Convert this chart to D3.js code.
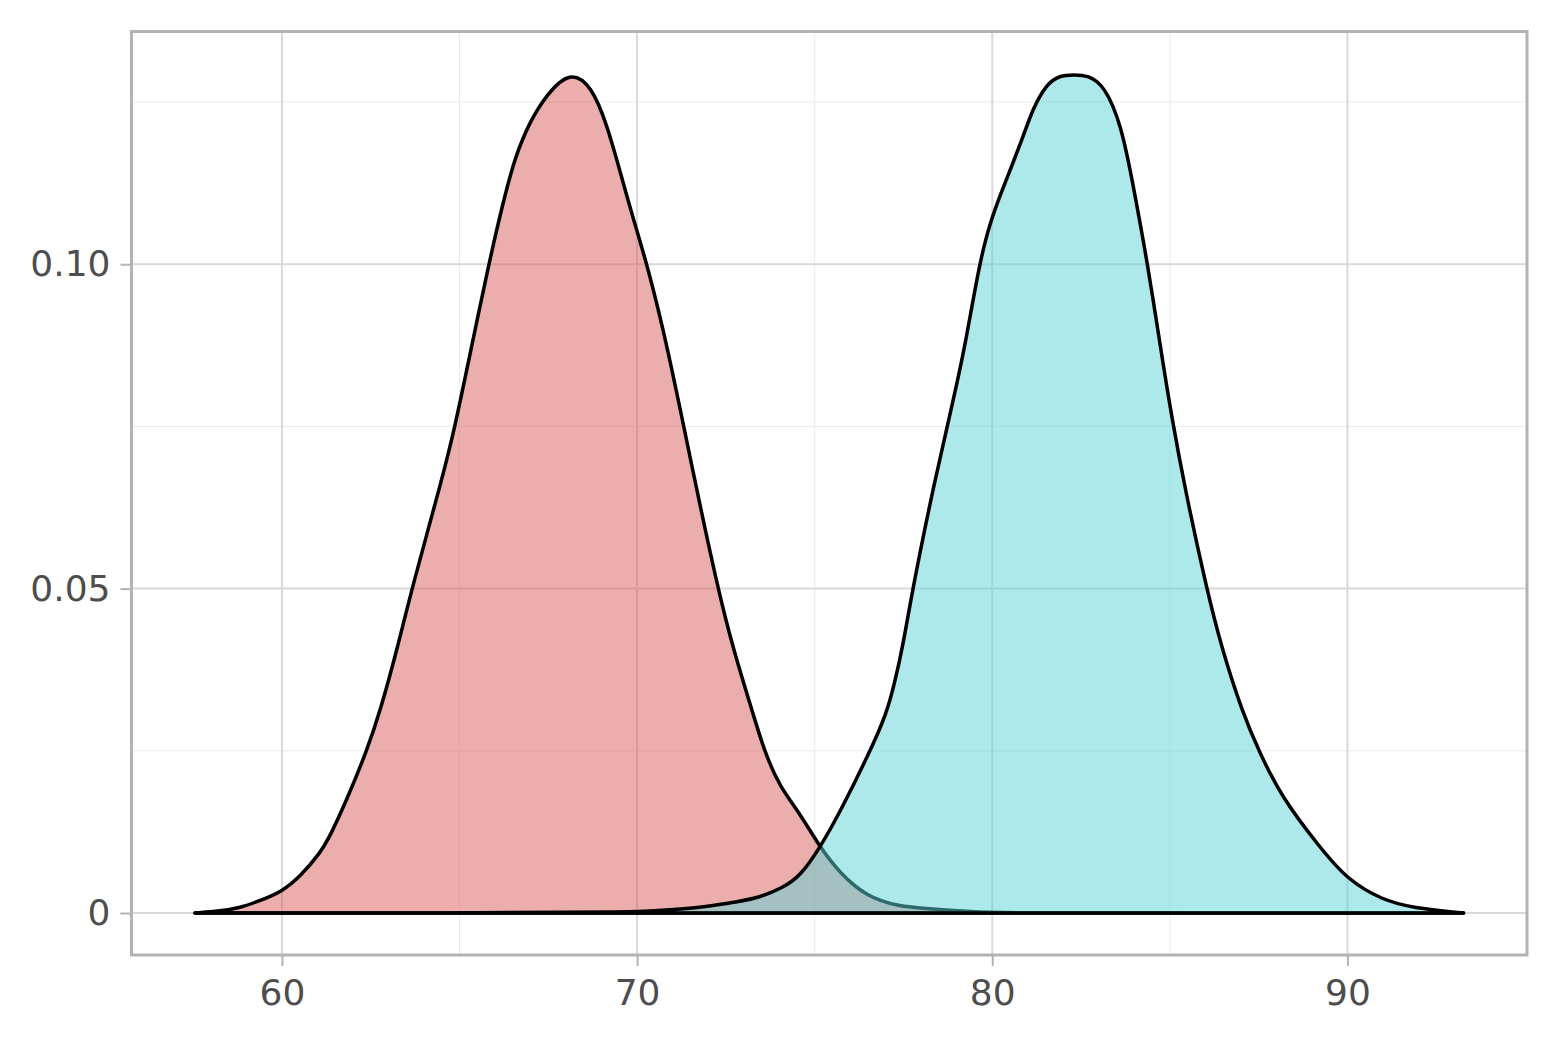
<!DOCTYPE html>
<html>
<head>
<meta charset="utf-8">
<script src="https://cdn.jsdelivr.net/npm/d3@7"></script>
<style>
  body { margin: 0; background: #fff; }
  text { font-family: "DejaVu Sans", sans-serif; }
</style>
</head>
<body>
<script>
// density curves (x value, density)
let redX = [57.55, 58.26, 58.82, 59.38, 60.00, 60.51, 61.07, 61.35, 61.83, 62.39, 62.76, 63.26, 63.66,
  64.50, 64.87, 65.26, 65.83, 66.22, 66.56, 66.98, 67.46, 68.11, 68.72, 69.15, 69.51, 69.88, 70.27,
  70.84, 71.62, 72.27, 72.69, 73.26, 73.59, 74.02, 74.58, 75.14, 75.70, 76.46, 77.39, 78.15, 79.45,
  80.49, 85.00, 93.27]
let redY = [0, 0.0003, 0.0008, 0.0019, 0.0033, 0.0056, 0.0092, 0.0118, 0.0175, 0.0250, 0.0310, 0.0410, 0.0501,
  0.0667, 0.0749, 0.0852, 0.1002, 0.1094, 0.1165, 0.1220, 0.1262, 0.1298, 0.1275, 0.1215, 0.1145, 0.1072, 0.1002,
  0.0878, 0.0667, 0.0501, 0.0410, 0.0308, 0.0248, 0.0194, 0.0154, 0.0102, 0.0062, 0.0025, 0.0010, 0.0007, 0.0002,
  0, 0, 0]

let cyanX = [57.55, 65.00, 70.00, 70.92, 71.85, 72.89, 73.45, 74.10, 74.58, 75.14, 75.70, 76.55, 77.03,
  77.25, 77.48, 77.76, 78.38, 78.94, 79.22, 79.64, 79.93, 80.26, 80.83, 81.14, 81.53, 81.90, 82.30, 82.70,
  83.15, 83.64, 84.01, 84.37, 84.77, 85.05, 85.44, 86.03, 86.45, 87.05, 87.52, 88.14, 89.21, 90.00,
  90.99, 91.83, 93.27]
let cyanY = [0, 0, 0.0001, 0.0005, 0.0009, 0.0018, 0.0024, 0.0039, 0.0056, 0.0100, 0.0154, 0.0248, 0.0308,
  0.0355, 0.0410, 0.0501, 0.0667, 0.0800, 0.0870, 0.1002, 0.1063, 0.1112, 0.1190, 0.1240, 0.1278, 0.1291, 0.1292, 0.1291,
  0.1276, 0.1215, 0.1109, 0.1002, 0.0860, 0.0765, 0.0650, 0.0501, 0.0410, 0.0308, 0.0248, 0.0179, 0.0102, 0.0051,
  0.0020, 0.0008, 0]

let xTicks = [60, 70, 80, 90]
let xMinor = [65, 75, 85]
let yTicks = [0, 0.05, 0.10]
let yTickLabels = ['0', '0.05', '0.10']
let yMinor = [0.025, 0.075, 0.125]

let width = 1559, height = 1044
let panel = { left: 131.5, right: 1527, top: 31.5, bottom: 955 }

let svg = d3.select('body').append('svg')
  .attr('width', width).attr('height', height)

let allX = redX.concat(cyanX)
let xLo = d3.min(allX), xHi = d3.max(allX)
let yHi = 0.1294
let xPad = (xHi - xLo) * 0.05, yPad = yHi * 0.05

let x = d3.scaleLinear().domain([xLo - xPad, xHi + xPad]).range([panel.left, panel.right])
let y = d3.scaleLinear().domain([-yPad, yHi + yPad]).range([panel.bottom, panel.top])

let grid = svg.append('g')
grid.selectAll('.xminor').data(xMinor).enter().append('line')
  .attr('x1', d => x(d)).attr('x2', d => x(d))
  .attr('y1', panel.top).attr('y2', panel.bottom)
  .attr('stroke', '#ebebeb').attr('stroke-width', 1)
grid.selectAll('.yminor').data(yMinor).enter().append('line')
  .attr('y1', d => y(d)).attr('y2', d => y(d))
  .attr('x1', panel.left).attr('x2', panel.right)
  .attr('stroke', '#ebebeb').attr('stroke-width', 1)
grid.selectAll('.xmajor').data(xTicks).enter().append('line')
  .attr('x1', d => x(d)).attr('x2', d => x(d))
  .attr('y1', panel.top).attr('y2', panel.bottom)
  .attr('stroke', '#d9d9d9').attr('stroke-width', 2)
grid.selectAll('.ymajor').data(yTicks).enter().append('line')
  .attr('y1', d => y(d)).attr('y2', d => y(d))
  .attr('x1', panel.left).attr('x2', panel.right)
  .attr('stroke', '#d9d9d9').attr('stroke-width', 2)

let area = d3.area()
  .x(d => x(d[0]))
  .y0(y(0))
  .y1(d => y(d[1]))
  .curve(d3.curveBasis)

let series = [
  { pts: d3.zip(redX, redY), fill: '#d95d5b' },
  { pts: d3.zip(cyanX, cyanY), fill: '#5bd1d5' }
]

series.forEach(s => {
  svg.append('path')
    .attr('d', area(s.pts) + 'Z')
    .attr('fill', s.fill)
    .attr('fill-opacity', 0.5)
    .attr('stroke', '#000')
    .attr('stroke-width', 3.5)
    .attr('stroke-linejoin', 'round')
    .attr('stroke-linecap', 'round')
})

// panel border
svg.append('rect')
  .attr('x', panel.left).attr('y', panel.top)
  .attr('width', panel.right - panel.left).attr('height', panel.bottom - panel.top)
  .attr('fill', 'none').attr('stroke', '#b3b3b3').attr('stroke-width', 3)

let xAxis = d3.axisBottom(x).tickValues(xTicks).tickSize(11).tickPadding(13).tickFormat(d3.format('d'))
let yAxis = d3.axisLeft(y).tickValues(yTicks).tickSize(11).tickPadding(10).tickFormat((d, i) => yTickLabels[i])

let styleAxis = g => {
  g.select('.domain').remove()
  g.selectAll('.tick line').attr('stroke', '#b3b3b3').attr('stroke-width', 2)
  g.selectAll('.tick text')
    .attr('fill', '#4d4d4d')
    .style('font-size', '36px')
    .style('font-family', '"DejaVu Sans", sans-serif')
}

svg.append('g')
  .attr('transform', `translate(0,${panel.bottom})`)
  .call(xAxis).call(styleAxis)

svg.append('g')
  .attr('transform', `translate(${panel.left},0)`)
  .call(yAxis).call(styleAxis)
</script>
</body>
</html>
